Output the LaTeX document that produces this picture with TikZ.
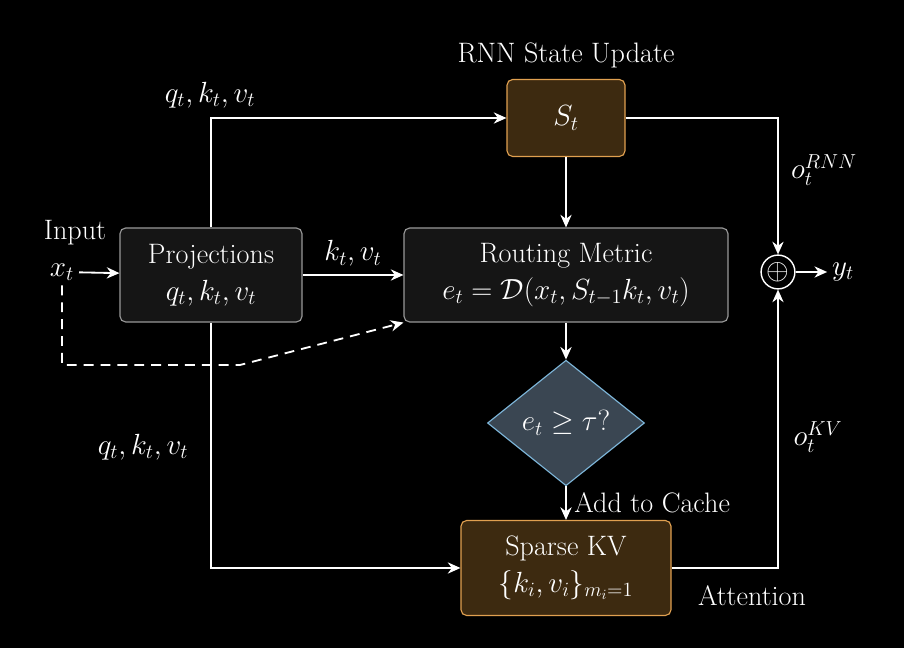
\documentclass[tikz,border=0pt]{standalone}
\usepackage{amsmath,amssymb}
\usepackage{tikz}
\usetikzlibrary{shapes,arrows,arrows.meta,positioning,calc}
\definecolor{boxfill}{HTML}{151515}
\definecolor{rnnfill}{HTML}{3D2A10}
\definecolor{rnnline}{HTML}{E0A050}
\definecolor{decfill}{HTML}{3A4652}
\definecolor{decline}{HTML}{7FB8DC}
\begin{document}
\begin{tikzpicture}[x=0.025cm,y=-0.025cm,font=\fontsize{20}{26}\selectfont,text=white]
    % Define styles
    \tikzstyle{block} = [rectangle, rounded corners=4pt, align=center, draw=gray!80, fill=boxfill, line width=0.8pt]
    \tikzstyle{state} = [rectangle, rounded corners=4pt, align=center, draw=rnnline, fill=rnnfill, line width=0.8pt]
    \tikzstyle{decision} = [diamond, aspect=1.25, inner sep=6pt, draw=decline, fill=decfill, line width=0.8pt]
    \tikzstyle{arrow} = [white, line width=1.3pt, -{Stealth[length=9pt,width=8pt]}]
    \fill[black] (0,0) rectangle (904,648);

    % Nodes
    \node (rnn) [state, minimum width=118*0.025cm, minimum height=77*0.025cm] at (566,118) {$S_t$};
    \node [above=4pt of rnn] {RNN State Update};
    \node (proj) [block, minimum width=182*0.025cm, minimum height=94*0.025cm] at (211,275) {Projections\\$q_t, k_t, v_t$};
    \node (route) [block, minimum width=324*0.025cm, minimum height=94*0.025cm] at (566,275) {Routing Metric\\$e_t = \mathcal{D}(x_t, S_{t-1}k_t, v_t)$};
    \node (gate) [decision] at (566,423) {$e_t \geq \tau?$};
    \node (kv) [state, minimum width=210*0.025cm, minimum height=95*0.025cm] at (566,568) {Sparse KV\\$\{k_i, v_i\}_{m_i=1}$};
    \node (sum) [circle, draw=white, line width=1pt, inner sep=1pt] at (778,272) {$\oplus$};
    \node (out) at (843,272) {$y_t$};
    \node (in) at (62,272) {$x_t$};
    \node at (75,233) {Input};
    \node at (210,95) {$q_t, k_t, v_t$};
    \node at (143,447) {$q_t, k_t, v_t$};
    \node at (824,170) {$o_t^{RNN}$};
    \node at (818,437) {$o_t^{KV}$};
    \node at (752,596) {Attention};
    \coordinate (c1) at (62,365);
    \coordinate (c2) at (240,365);

    % Arrows
    \draw [arrow] (in) -- (proj);
    \draw [arrow] (proj.north) |- (rnn.west);
    \draw [arrow] (rnn.east) -| (sum.north);
    \draw [arrow] (rnn) -- (route);
    \draw [arrow] (proj) -- node[above=2pt] {$k_t, v_t$} (route);
    \draw [arrow, dash pattern=on 7pt off 5pt] (in.south) -- (c1) -- (c2) -- (route.south west);
    \draw [arrow] (proj.south) |- (kv.west);
    \draw [arrow] (route) -- (gate);
    \draw [arrow] (gate) -- node[right=2pt] {Add to Cache} (kv);
    \draw [arrow] (kv.east) -| (sum.south);
    \draw [arrow] (sum) -- (out);
\end{tikzpicture}
\end{document}
